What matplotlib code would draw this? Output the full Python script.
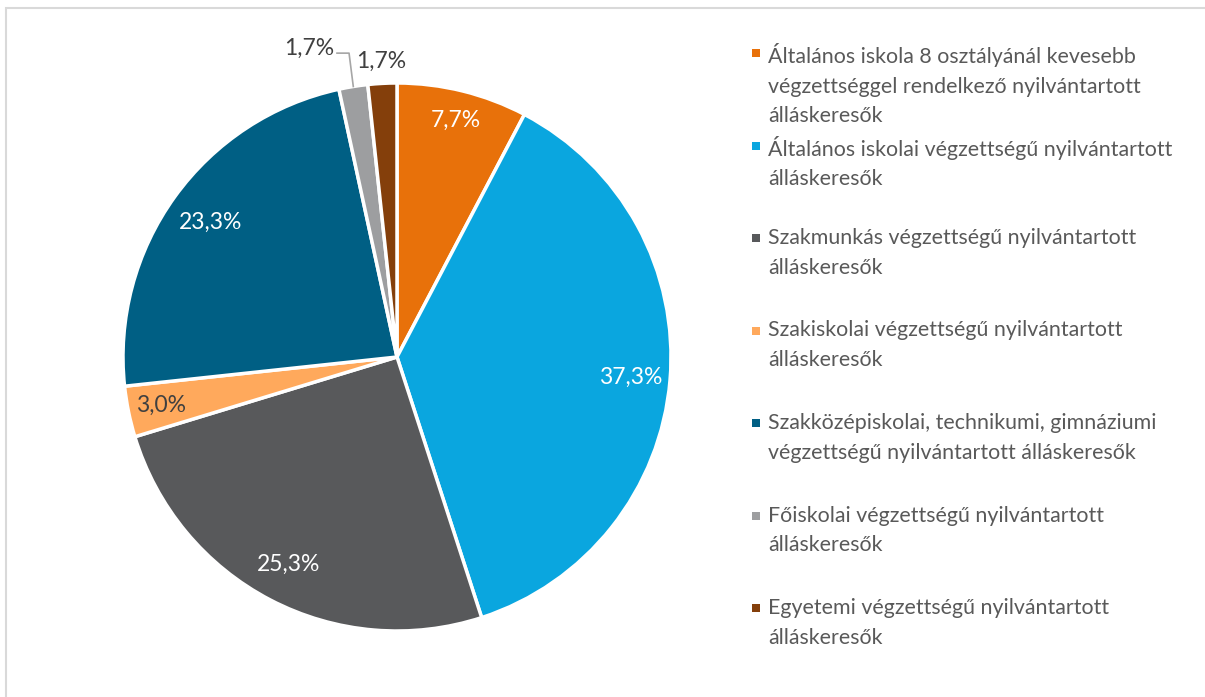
import numpy as np
import matplotlib
matplotlib.use("Agg")
import matplotlib.pyplot as plt
from matplotlib.patches import Rectangle

plt.rcParams["font.family"] = ["Lato", "DejaVu Sans"]

# data
categories = [
    "Általános iskola 8 osztályánál kevesebb\nvégzettséggel rendelkező nyilvántartott\nálláskeresők",
    "Általános iskolai végzettségű nyilvántartott\nálláskeresők",
    "Szakmunkás végzettségű nyilvántartott\nálláskeresők",
    "Szakiskolai végzettségű nyilvántartott\nálláskeresők",
    "Szakközépiskolai, technikumi, gimnáziumi\nvégzettségű nyilvántartott álláskeresők",
    "Főiskolai végzettségű nyilvántartott\nálláskeresők",
    "Egyetemi végzettségű nyilvántartott\nálláskeresők",
]
shares = [7.7, 37.3, 25.3, 3.0, 23.3, 1.7, 1.7]

colors = ["#E8710A", "#0AA6DF", "#58595B", "#FFA95C", "#005F84", "#9D9EA0", "#843F0B"]
label_colors = ["white", "white", "white", "#404040", "white", "#404040", "#404040"]
label_dist = [0.89, 0.855, 0.855, 0.88, 0.84, None, 1.08]

W, H = 1205, 697
fig = plt.figure(figsize=(W / 100, H / 100), dpi=100)

# light frame, only left/top edges fall inside the image
fig.patches.append(Rectangle((6 / W, -0.1), 1.2, 1 - 8 / H + 0.1, transform=fig.transFigure,
                             fill=False, ec="#D9D9D9", lw=1.5))

cx, cy, R = 397, 357, 274
ax = fig.add_axes([(cx - R) / W, 1 - (cy + R) / H, 2 * R / W, 2 * R / H])
wedges, _ = ax.pie(shares, colors=colors, startangle=90, counterclock=False, radius=1,
                   wedgeprops=dict(edgecolor="white", linewidth=2.5))
ax.set_xlim(-1, 1); ax.set_ylim(-1, 1)
ax.axis("off")

for i, w in enumerate(wedges):
    txt = f"{shares[i]:.1f}".replace(".", ",") + "%"
    mid = np.deg2rad((w.theta1 + w.theta2) / 2)
    d = label_dist[i]
    if d is None:
        # leader line to the left
        x0, y0 = np.cos(mid), np.sin(mid)
        ax.plot([x0, -0.175, -0.219], [y0, 1.109, 1.109], color="#A6A6A6", lw=1.2, clip_on=False)
        ax.text(-0.23, 1.128, txt, ha="right", va="center", fontsize=16.5, color=label_colors[i])
        continue
    ax.text(d * np.cos(mid), d * np.sin(mid), txt, ha="center", va="center",
            fontsize=16.5, color=label_colors[i])

# legend, evenly spaced entries
for i, lab in enumerate(categories):
    ytop = 53 + 92.5 * i
    fig.patches.append(Rectangle((752 / W, 1 - (ytop + 4) / H), 8 / W, 8 / H,
                                 transform=fig.transFigure, color=colors[i], lw=0))
    fig.text(768 / W, 1 - (ytop - 10) / H, lab, ha="left", va="top", fontsize=15.4,
             color="#595959", linespacing=1.6)

fig.savefig("out.png", dpi=100)
